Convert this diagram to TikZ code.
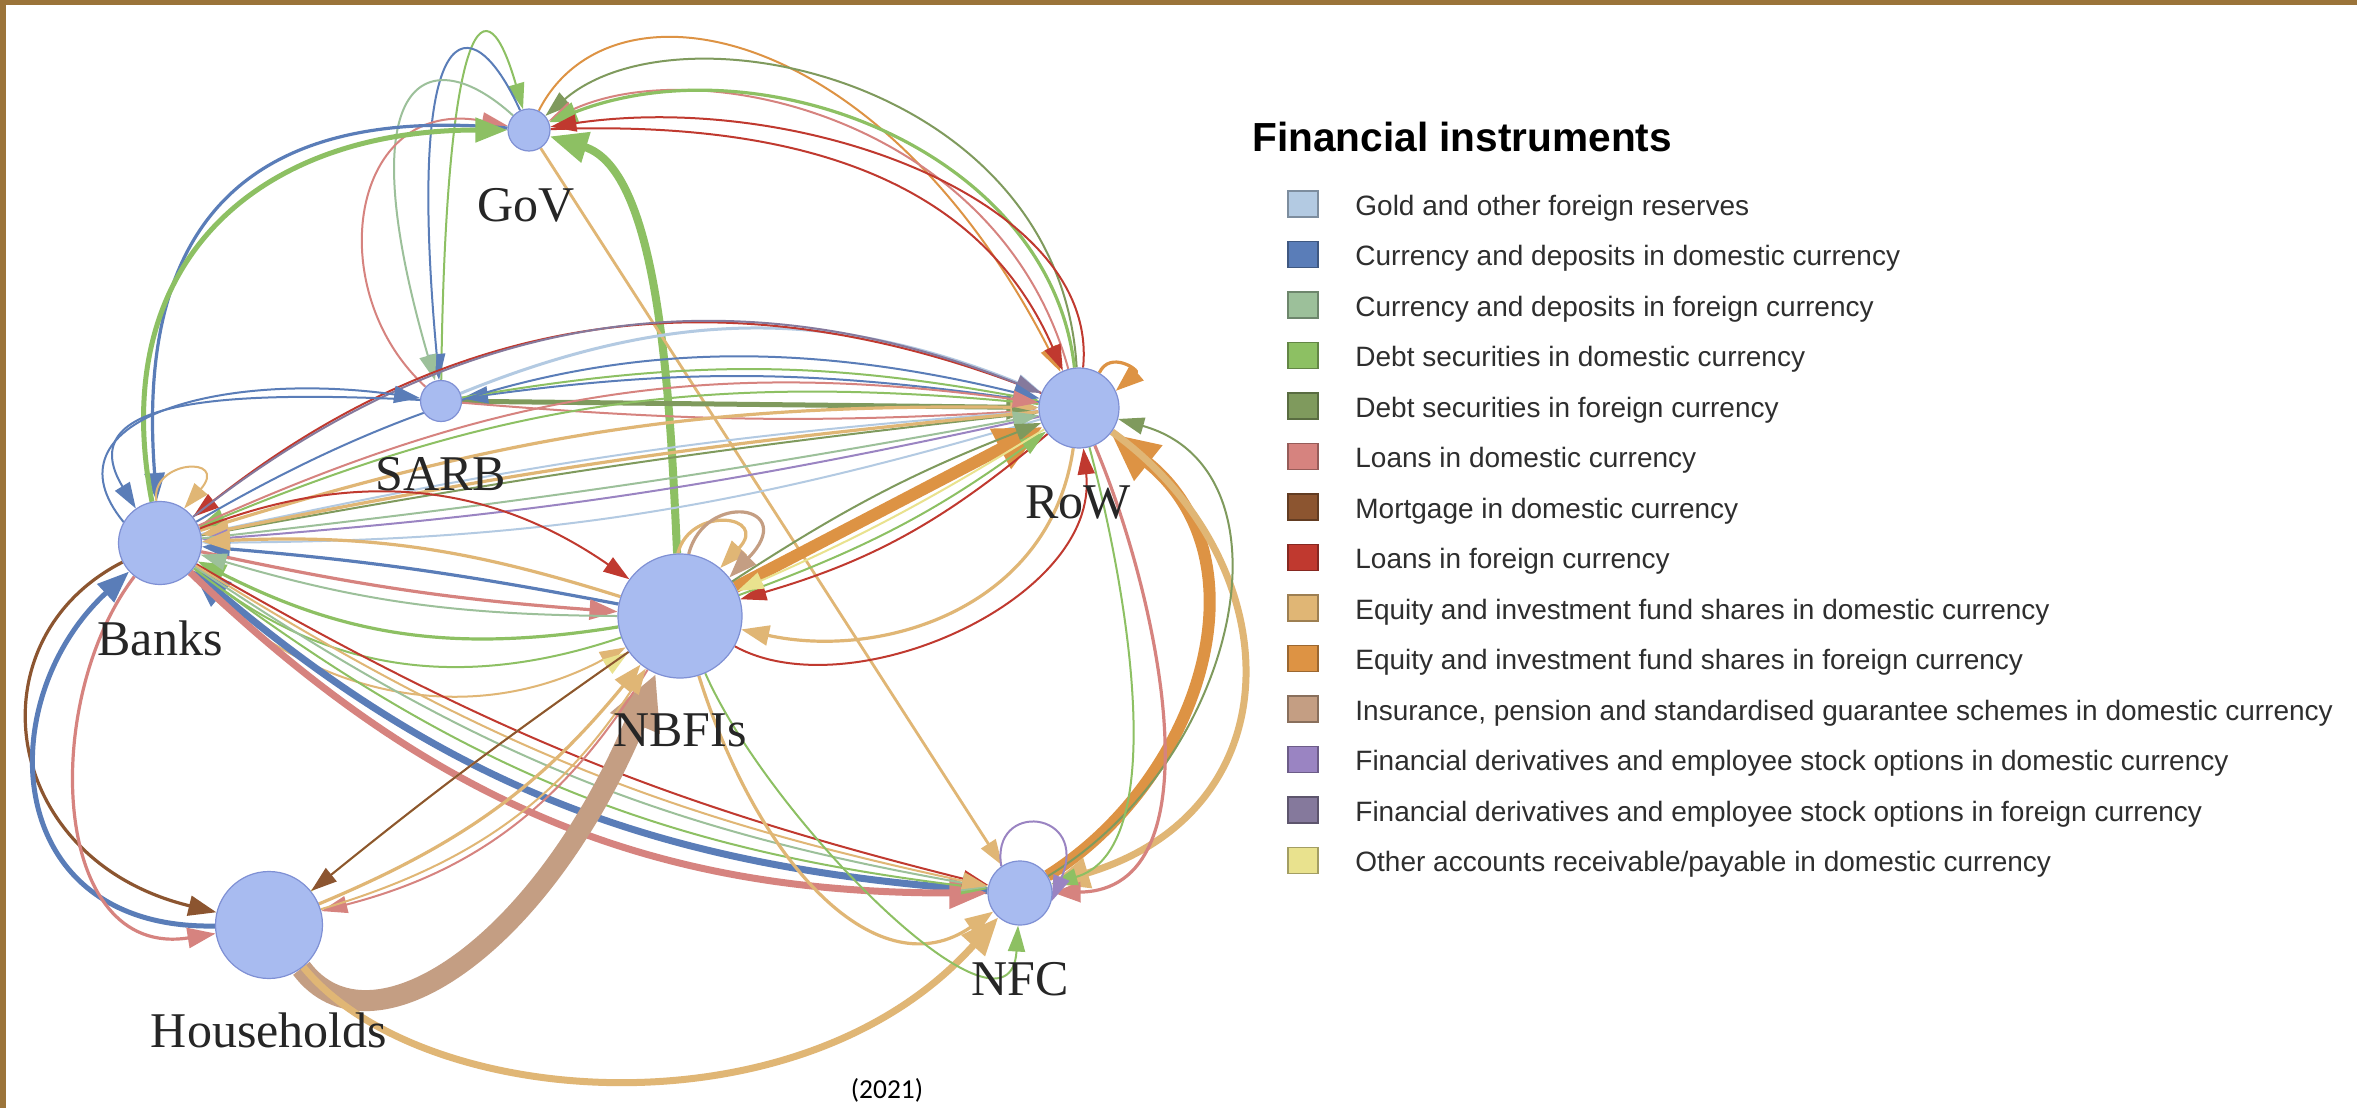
\documentclass[tikz,border=0pt]{standalone}
\usepackage{fontspec}
\setmainfont{Liberation Serif}
\setsansfont{Liberation Sans}
\newfontfamily\yearfont{Carlito}
\usetikzlibrary{arrows.meta}
\pgfdeclarelayer{paper}
\pgfdeclarelayer{background}
\pgfsetlayers{paper,background,main}

% instrument colours
\definecolor{cgold}{HTML}{B3CAE2}
\definecolor{ccurd}{HTML}{5A7DB8}
\definecolor{ccurf}{HTML}{9CC09A}
\definecolor{cdebd}{HTML}{8DC063}
\definecolor{cdebf}{HTML}{7F9A5D}
\definecolor{cloand}{HTML}{D6837F}
\definecolor{cmort}{HTML}{8C5530}
\definecolor{cloanf}{HTML}{C0392F}
\definecolor{ceqd}{HTML}{E0B675}
\definecolor{ceqf}{HTML}{DD9344}
\definecolor{cins}{HTML}{C49E83}
\definecolor{cderd}{HTML}{9A84C2}
\definecolor{cderf}{HTML}{85799C}
\definecolor{coth}{HTML}{E9E28E}
\definecolor{nodefill}{HTML}{A8BBF0}
\definecolor{nodeline}{HTML}{7F90D4}
\definecolor{frame}{RGB}{155,116,58}

\tikzset{
  sector/.style={circle, fill=nodefill, draw=nodeline, line width=0.6pt, inner sep=0pt},
  lab/.style={font=\fontsize{25}{30}\selectfont, text=black!85, inner sep=0pt, anchor=base},
  fl1/.style={line width=1pt, -{Triangle[length=13pt,width=8.5pt]}},
  fl2/.style={line width=1.6pt, -{Triangle[length=14pt,width=10pt]}},
  fl3/.style={line width=2.5pt, -{Triangle[length=16pt,width=12pt]}},
  fl4/.style={line width=3.5pt, -{Triangle[length=19pt,width=15pt]}},
  fl5/.style={line width=6pt, -{Triangle[length=24pt,width=21pt]}},
  fl6/.style={line width=10.5pt, -{Triangle[length=27pt,width=25pt]}},
  legtext/.style={font=\sffamily\fontsize{14}{17}\selectfont, text=black!82, inner sep=0pt, anchor=base west},
}

\begin{document}
\begin{tikzpicture}[x=0.5pt, y=-0.5pt]
\useasboundingbox (0,0) rectangle (2357,1108);
\begin{pgfonlayer}{paper}
\fill[white] (0,0) rectangle (2357,1108);
\fill[frame] (0,0) rectangle (2357,5);
\fill[frame] (0,0) rectangle (6,1108);
\end{pgfonlayer}

% sectors
\node[sector, minimum size=21pt]   (gov)   at (529,130) {};
\node[sector, minimum size=20.5pt] (sarb)  at (441,401) {};
\node[sector, minimum size=40pt]   (row)   at (1079,408) {};
\node[sector, minimum size=41.5pt] (banks) at (160,543) {};
\node[sector, minimum size=62pt]   (nbfi)  at (680,616) {};
\node[sector, minimum size=53.5pt] (hh)    at (269,925) {};
\node[sector, minimum size=32pt]   (nfc)   at (1020,893) {};

\begin{pgfonlayer}{background}
% GoV <-> SARB
\draw[fl1, cdebd] (sarb) .. controls (445,50) and (480,-40) .. (gov);
\draw[fl1, ccurd] (gov) .. controls (470,0) and (405,10) .. (sarb);
\draw[fl1, ccurf] (gov) .. controls (430,40) and (345,70) .. (sarb);
\draw[fl1, cloand] (sarb) .. controls (320,290) and (350,95) .. (gov);
% GoV <-> Banks
\draw[fl2, ccurd] (gov) .. controls (250,105) and (135,220) .. (banks);
\draw[fl3, cdebd] (banks) .. controls (105,260) and (260,130) .. (gov);
% NBFIs -> GoV
\draw[fl4, cdebd, line width=4pt] (nbfi) .. controls (670,400) and (660,170) .. (gov);
% GoV -> NFC
\draw[fl1, ceqd, line width=1.4pt] (gov) -- (nfc);
% GoV <-> RoW
\draw[fl1, ceqf] (gov) .. controls (610,-30) and (880,20) .. (row);
\draw[fl1, cdebf] (row) .. controls (1060,80) and (680,0) .. (gov);
\draw[fl1, cloand] (row) .. controls (1000,120) and (700,50) .. (gov);
\draw[fl2, cdebd] (row) .. controls (1050,150) and (760,40) .. (gov);
\draw[fl1, cloanf] (row) .. controls (1100,200) and (800,90) .. (gov);
\draw[fl1, cloanf] (gov) .. controls (800,120) and (980,180) .. (row);
% SARB <-> RoW
\draw[fl3, cdebf] (sarb) -- (row);
\draw[fl1, cloand] (sarb) to[bend right=4] (row);
\draw[fl1, ccurd] (row) to[bend right=8] (sarb);
\draw[fl1, cgold, line width=1.5pt] (sarb) to[bend left=22] (row);
\draw[fl1, cdebd] (sarb) to[bend left=10] (row);
% Banks <-> RoW
\draw[fl1, cloanf] (row) to[bend right=30] (banks);
\draw[fl1, cderf] (banks) to[bend left=30] (row);
\draw[fl1, ccurd] (banks) to[bend left=22] (row);
\draw[fl1, cgold] (banks) to[bend left=4] (row);
\draw[fl2, ceqd] (banks) to[bend left=9] (row);
\draw[fl1, cdebf] (banks) to[bend left=2] (row);
\draw[fl1, cdebd] (row) to[bend right=14] (banks);
\draw[fl1, cloand] (banks) to[bend left=16] (row);
\draw[fl2, ceqd] (row) to[bend right=3] (banks);
\draw[fl1, cderd] (row) to[bend left=4] (banks);
\draw[fl1, cgold] (row) to[bend left=8] (banks);
\draw[fl1, ccurf] (banks) to[bend right=2] (row);
% NBFIs <-> RoW
\draw[fl5, ceqf] (nbfi) -- (row);
\draw[fl1, cloanf] (row) to[bend left=12] (nbfi);
\draw[fl2, ceqd] (row) .. controls (1050,610) and (880,660) .. (nbfi);
\draw[fl1, cloanf] (nbfi) .. controls (850,710) and (1100,600) .. (row);
\draw[fl1, cdebf] (nbfi) to[bend left=6] (row);
\draw[fl1, cdebd] (nbfi) to[bend right=8] (row);
\draw[fl1, coth] (row) to[bend left=4] (nbfi);
% NBFIs self-loops
\draw[fl2, ceqd] (nbfi.92) .. controls (690,505) and (770,515) .. (nbfi.50);
\draw[fl2, cins] (nbfi.82) .. controls (705,490) and (800,505) .. (nbfi.38);
% Banks <-> NBFIs
\draw[fl2, ccurd] (nbfi) to[bend right=3] (banks);
\draw[fl1, cloanf] (banks) to[bend left=28] (nbfi);
\draw[fl2, cloand] (banks) to[bend right=4] (nbfi);
\draw[fl2, cdebd] (nbfi) to[bend left=18] (banks);
\draw[fl1, cdebd] (nbfi) to[bend left=28] (banks);
\draw[fl1, ceqd] (banks) to[bend right=38] (nbfi);
\draw[fl2, ceqd] (nbfi) to[bend right=10] (banks);
\draw[fl1, ccurf] (nbfi) to[bend left=8] (banks);
% Banks self-loop
\draw[fl1, ceqd] (banks.95) .. controls (150,460) and (230,455) .. (banks.55);
% Banks <-> SARB
\draw[fl1, ccurd] (banks.150) .. controls (40,420) and (220,370) .. (sarb);
\draw[fl1, ccurd] (sarb) .. controls (220,390) and (70,400) .. (banks.125);
% Banks <-> Households
\draw[fl2, cmort] (banks) .. controls (-30,640) and (0,860) .. (hh);
\draw[fl3, ccurd] (hh) .. controls (0,930) and (-10,700) .. (banks);
\draw[fl2, cloand] (banks) .. controls (40,700) and (50,960) .. (hh);
% Banks <-> NFC
\draw[fl4, ccurd] (nfc) to[bend left=18] (banks);
\draw[fl4, cloand] (banks) to[bend right=22] (nfc);
\draw[fl1, cdebd] (banks) to[bend right=15] (nfc);
\draw[fl1, cloanf] (banks) to[bend right=8] (nfc);
\draw[fl1, ccurf] (banks) to[bend right=12] (nfc);
\draw[fl1, ceqd] (banks) to[bend right=10] (nfc);
% Households <-> NBFIs
\draw[fl6, cins] (hh) .. controls (370,1060) and (540,950) .. (nbfi);
\draw[fl1, coth] (hh) to[bend left=2] (nbfi);
\draw[fl1, cmort] (nbfi) to[bend right=2] (hh);
\draw[fl1, cloand] (nbfi) to[bend left=22] (hh);
\draw[fl2, ceqd] (hh) to[bend right=14] (nbfi);
\draw[fl1, ceqd] (hh) to[bend right=20] (nbfi);
% Households -> NFC
\draw[fl4, ceqd] (hh) .. controls (420,1110) and (800,1140) .. (nfc);
% NBFIs -> NFC
\draw[fl2, ceqd] (nbfi) .. controls (760,870) and (880,990) .. (nfc);
\draw[fl1, cdebd] (nbfi) .. controls (770,820) and (1010,1060) .. (nfc);
% RoW <-> NFC
\draw[fl5, ceqf] (nfc) .. controls (1200,780) and (1270,560) .. (row);
\draw[fl4, ceqd] (row) .. controls (1290,560) and (1300,810) .. (nfc);
\draw[fl1, cdebf] (nfc) .. controls (1240,760) and (1300,470) .. (row);
\draw[fl2, cloand] (row) .. controls (1160,600) and (1220,890) .. (nfc);
\draw[fl1, cdebd] (row) .. controls (1130,600) and (1170,850) .. (nfc);
% self-loops
\draw[fl1, cderd] (nfc.125) .. controls (990,800) and (1090,810) .. (nfc.-15);
\draw[fl2, ceqf] (row.60) .. controls (1110,350) and (1140,370) .. (row.25);
\end{pgfonlayer}

% sector labels
\node[lab] (lgov)   at (526,221)  {GoV};
\node[lab] (lsarb)  at (441,490)  {SARB};
\node[lab] (lrow)   at (1078,518) {RoW};
\node[lab] (lbanks) at (160,655)  {Banks};
\node[lab] (lnbfi)  at (680,746)  {NBFIs};
\node[lab] (lhh)    at (269,1047) {Households};
\node[lab] (lnfc)   at (1020,995) {NFC};
\node[font=\yearfont\fontsize{13.7}{16}\selectfont, inner sep=0pt, anchor=base] (year) at (887,1098) {(2021)};

% legend
\node[font=\sffamily\bfseries\fontsize{20.3}{24}\selectfont, inner sep=0pt, anchor=base west] (legtitle) at (1252,151) {Financial instruments};
\foreach \c/\t [count=\i from 0] in {
  cgold/{Gold and other foreign reserves},
  ccurd/{Currency and deposits in domestic currency},
  ccurf/{Currency and deposits in foreign currency},
  cdebd/{Debt securities in domestic currency},
  cdebf/{Debt securities in foreign currency},
  cloand/{Loans in domestic currency},
  cmort/{Mortgage in domestic currency},
  cloanf/{Loans in foreign currency},
  ceqd/{Equity and investment fund shares in domestic currency},
  ceqf/{Equity and investment fund shares in foreign currency},
  cins/{Insurance, pension and standardised guarantee schemes in domestic currency},
  cderd/{Financial derivatives and employee stock options in domestic currency},
  cderf/{Financial derivatives and employee stock options in foreign currency},
  coth/{Other accounts receivable/payable in domestic currency}} {
  \fill[\c, draw=\c!70!black, line width=0.6pt] (1288,191+50.5*\i) rectangle (1318,217+50.5*\i);
  \node[legtext] (leg\i) at (1355,215+50.5*\i) {\t};
}
\end{tikzpicture}
\end{document}
